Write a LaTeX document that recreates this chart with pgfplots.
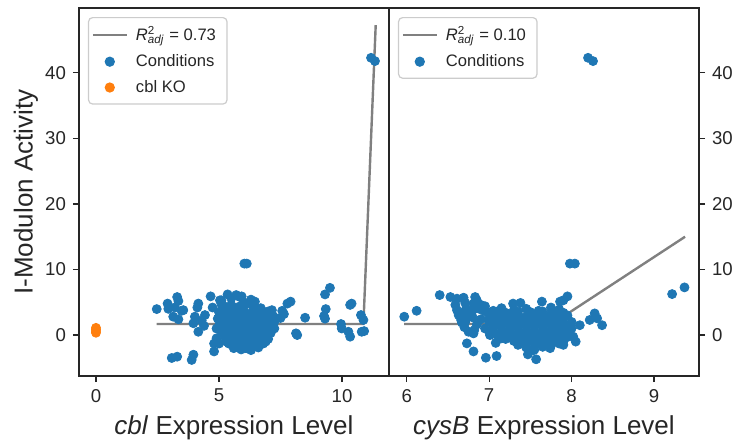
\documentclass[border=0pt]{standalone}
\usepackage{pgfplots}
\pgfplotsset{compat=1.18}
\usepackage{pgfplotstable}
\usepackage{fontspec}
\setmainfont{Liberation Sans}

\definecolor{tabblue}{HTML}{1F77B4}
\definecolor{taborange}{HTML}{FF7F0E}
\definecolor{fitgray}{HTML}{808080}
\definecolor{ink}{HTML}{262626}

% cbl expression vs activity
\pgfplotstableread{
x y
11.18 42.3
11.34 41.8
6.03 10.9
6.13 10.9
9.51 7.2
9.31 6.2
2.47 3.96
2.91 4.8
2.94 4.0
3.30 5.8
3.35 5.2
3.21 4.2
3.48 3.7
3.55 3.8
3.14 2.8
3.35 2.4
3.08 -3.5
3.30 -3.3
3.89 -3.8
3.96 -3.0
4.16 4.8
4.12 4.2
4.02 2.8
3.96 1.8
4.16 0.5
4.43 3.05
4.30 2.2
4.39 1.4
4.66 5.9
4.74 4.2
4.80 -1.3
4.80 -2.5
5.04 5.3
5.11 4.6
5.35 6.2
5.85 5.8
5.92 5.9
6.46 5.1
6.94 3.3
7.57 3.7
7.64 3.2
7.50 2.6
7.78 4.8
7.91 5.1
8.50 2.64
8.13 0.26
8.18 0.0
9.34 3.96
9.27 2.9
9.31 2.5
10.39 4.8
10.33 4.6
9.96 1.68
9.99 1.0
10.26 0.5
10.33 -0.25
10.77 3.05
10.87 2.3
10.80 0.5
10.90 0.6
5.2 4.4
5.5 4.6
5.8 4.3
6.1 4.7
6.4 4.2
6.7 4.1
7.0 3.6
5.0 3.5
5.25 3.3
5.45 3.7
5.65 3.4
5.85 3.8
6.05 3.5
6.25 3.2
6.45 3.6
6.65 3.3
6.85 3.5
7.05 3.1
7.2 2.9
4.95 2.5
5.15 2.7
5.35 2.4
5.55 2.8
5.75 2.5
5.95 2.6
6.15 2.3
6.35 2.7
6.55 2.4
6.75 2.6
6.95 2.3
7.15 2.4
7.25 2.0
5.0 1.4
5.2 1.7
5.4 1.3
5.6 1.6
5.8 1.4
6.0 1.7
6.2 1.3
6.4 1.6
6.6 1.4
6.8 1.7
7.0 1.3
7.2 1.5
5.1 0.4
5.3 0.7
5.5 0.3
5.7 0.6
5.9 0.4
6.1 0.7
6.3 0.3
6.5 0.6
6.7 0.4
6.9 0.6
7.1 0.3
5.25 -0.4
5.45 -0.7
5.65 -0.3
5.85 -0.6
6.05 -0.4
6.25 -0.7
6.45 -0.3
6.65 -0.6
6.85 -0.4
7.0 -0.6
5.4 -1.3
5.6 -1.6
5.8 -1.2
6.0 -1.7
6.2 -1.4
6.4 -1.5
6.6 -1.2
6.8 -1.3
5.9 -2.2
6.1 -2.0
6.3 -2.3
6.6 -1.9
5.6 -2.0
5.3 2.0
5.6 2.1
5.9 2.0
6.2 1.9
6.5 2.0
6.8 2.1
5.4 1.0
5.7 1.1
6.0 0.9
6.3 1.1
6.6 1.0
6.9 0.9
5.5 0.0
5.8 -0.1
6.1 0.1
6.4 -0.1
6.7 0.0
5.6 3.0
6.0 3.0
6.4 3.1
6.8 2.9
5.3 -1.0
5.7 -1.0
6.1 -1.1
6.5 -0.9
6.9 -1.0
5.5 5.6
5.7 6.1
5.1 5.3
6.3 5.4
6.0 5.0
7.3 2.6
7.25 1.0
7.15 3.8
4.9 1.0
4.9 -0.5
5.0 -1.3
}\cbldata

% cysB expression vs activity
\pgfplotstableread{
x y
8.20 42.3
8.26 41.8
7.98 10.9
8.04 10.9
9.22 6.25
9.37 7.27
5.97 2.8
6.12 3.7
6.40 6.1
6.53 5.8
6.61 5.55
6.69 5.7
6.71 4.9
6.59 4.6
6.61 3.8
6.63 3.05
6.66 2.3
6.67 1.9
6.71 2.0
6.73 -1.27
6.81 -2.5
6.96 -3.46
7.09 -3.2
7.47 -2.95
7.57 -3.7
7.54 -2.3
7.74 -2.0
6.82 0.76
6.81 0.25
6.83 5.8
6.85 5.3
6.81 4.8
6.83 4.05
6.80 3.8
7.01 0.0
7.29 4.8
7.38 4.9
7.64 5.1
7.86 5.1
7.90 5.3
7.95 5.9
8.10 1.5
8.22 2.3
8.28 3.3
8.31 2.55
8.37 1.5
8.02 -0.25
8.05 -1.0
7.15 4.1
7.3 3.8
7.45 4.0
7.6 3.7
7.75 4.2
7.85 3.9
7.05 3.0
7.15 3.3
7.25 2.9
7.35 3.2
7.45 2.8
7.55 3.1
7.65 2.9
7.75 3.3
7.85 2.8
7.95 3.0
7.0 2.0
7.1 2.3
7.2 1.9
7.3 2.2
7.4 1.8
7.5 2.1
7.6 2.3
7.7 1.9
7.8 2.2
7.9 1.8
8.0 2.0
7.05 1.0
7.15 1.3
7.25 0.9
7.35 1.2
7.45 0.8
7.55 1.1
7.65 1.3
7.75 0.9
7.85 1.2
7.95 0.8
7.1 0.0
7.2 0.3
7.3 -0.1
7.4 0.2
7.5 -0.2
7.6 0.1
7.7 0.3
7.8 -0.1
7.9 0.2
7.95 -0.3
7.3 -0.9
7.4 -1.2
7.5 -0.8
7.6 -1.1
7.7 -1.3
7.8 -0.9
7.55 -1.5
7.75 -1.6
7.45 -1.9
7.55 -2.2
7.65 -1.8
6.85 4.2
6.9 3.9
6.95 3.6
7.0 3.4
7.05 3.7
6.9 4.6
6.95 4.4
6.75 3.0
6.8 2.7
6.9 2.4
7.0 2.6
6.7 1.2
6.75 0.5
6.85 1.6
6.95 1.0
7.0 0.5
6.7 3.5
6.72 4.0
7.5 3.5
8.0 1.0
7.33 -1.0
7.9 -1.0
7.08 -1.2
7.2 -0.6
7.9 -1.5
7.1 3.6
7.2 3.4
7.35 3.6
7.5 3.4
7.65 3.6
7.8 3.5
7.9 3.4
7.1 2.6
7.2 2.4
7.3 2.7
7.4 2.5
7.5 2.6
7.6 2.4
7.7 2.7
7.8 2.5
7.9 2.6
7.05 1.5
7.15 1.7
7.25 1.4
7.35 1.6
7.45 1.5
7.55 1.7
7.65 1.4
7.75 1.6
7.85 1.5
7.95 1.4
7.05 0.6
7.15 0.4
7.25 0.6
7.35 0.4
7.45 0.5
7.55 0.6
7.65 0.4
7.75 0.5
7.85 0.6
7.95 0.3
7.15 -0.5
7.25 -0.3
7.35 -0.6
7.45 -0.4
7.55 -0.6
7.65 -0.5
7.75 -0.4
7.85 -0.6
7.35 -1.5
7.45 -1.3
7.65 -1.4
7.85 -1.3
}\cysdata

\pgfplotsset{
  panel/.style={
    scale only axis, width=155pt, height=184pt,
    ymin=-6.25, ymax=49.9,
    ytick={0,10,20,30,40},
    axis line style={ink, line width=0.9pt},
    tick style={ink, line width=0.6pt},
    tick align=outside, major tick length=3pt,
    xtick pos=bottom,
    tick label style={font=\fontsize{9.3}{11}\selectfont, text=ink},
    /pgf/number format/assume math mode=true,
    label style={font=\fontsize{13}{15}\selectfont, text=ink},
    xlabel style={at={(axis description cs:0.5,-0.14)}, anchor=center},
    legend cell align=left,
    legend style={at={(axis description cs:0.029,0.9755)}, anchor=north west,
      draw=black!20, line width=0.6pt, rounded corners=2pt, fill=white,
      font=\fontsize{8.3}{10}\selectfont, text=ink,
      row sep=1.4pt, inner xsep=1.5pt, inner ysep=2.5pt,
      nodes={inner xsep=4pt}},
  },
  dots/.style={only marks, mark=*, mark size=2.25pt, color=#1,
    legend image code/.code={\draw[##1] plot coordinates {(8.5pt,0pt)};}},
  fit/.style={fitgray, line width=1.2pt, sharp plot},
  fitlegend/.style={fitgray, line width=1.2pt,
    legend image code/.code={\draw[##1] (0pt,0pt) -- (17pt,0pt);}},
}

\begin{document}
\begin{tikzpicture}
\useasboundingbox (-39.5pt,-32.5pt) rectangle (333pt,188pt);

\begin{axis}[panel, at={(0pt,0pt)}, anchor=south west,
    xmin=-0.69, xmax=11.91, xtick={0,5,10},
    ytick pos=left,
    xlabel={\textit{cbl} Expression Level},
    ylabel={I-Modulon Activity},
    ylabel style={at={(axis description cs:-0.171,0.5)}, anchor=center},
]
\addlegendimage{fitlegend}
\addplot[dots=tabblue] table {\cbldata};
\addplot[dots=taborange] coordinates {(0,0.35) (0,0.6) (0,0.85) (0,1.1)};
\addplot[fit, forget plot] coordinates {(2.47,1.68) (10.87,1.68) (11.37,47.3)};
\legend{\textit{R}\rlap{\textsuperscript{2}}\textsubscript{\textit{adj}} = 0.73, Conditions, cbl KO}
\end{axis}

\begin{axis}[panel, at={(155pt,0pt)}, anchor=south west,
    xmin=5.785, xmax=9.546, xtick={6,7,8,9},
    ytick pos=right, yticklabel pos=right,
    xlabel={\textit{cysB} Expression Level},
]
\addlegendimage{fitlegend}
\addplot[dots=tabblue] table {\cysdata};
\addplot[fit, forget plot] coordinates {(5.967,1.68) (7.76,1.68) (9.377,15.0)};
\legend{\textit{R}\rlap{\textsuperscript{2}}\textsubscript{\textit{adj}} = 0.10, Conditions}
\end{axis}
\end{tikzpicture}
\end{document}
